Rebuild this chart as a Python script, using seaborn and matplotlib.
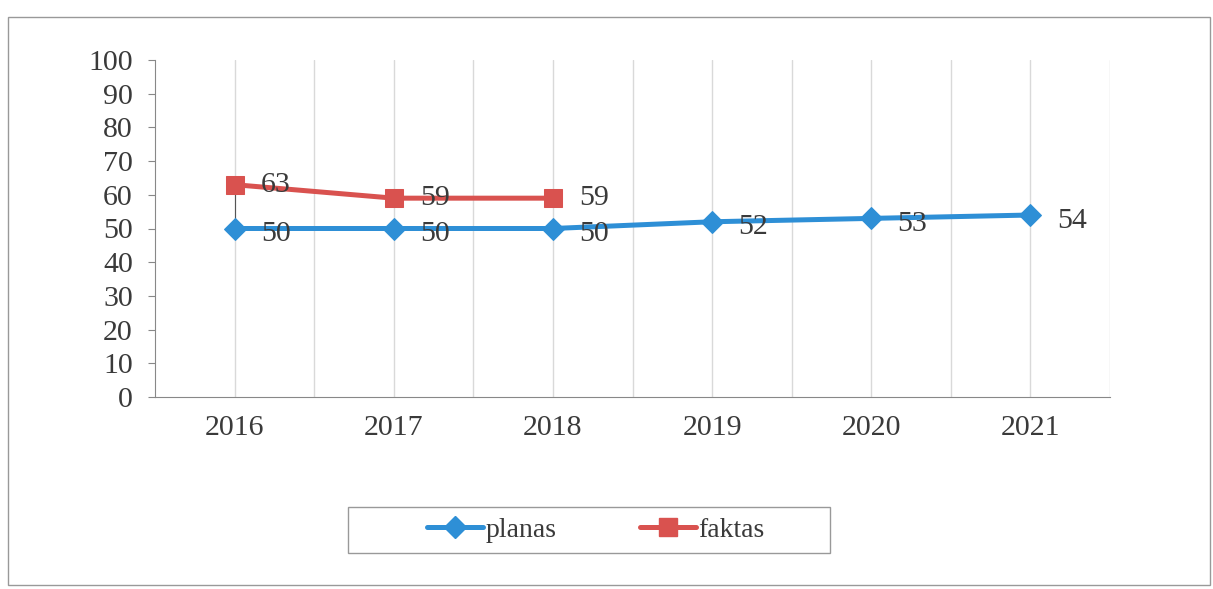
import matplotlib
matplotlib.use('Agg')
import matplotlib.pyplot as plt
from matplotlib.patches import Rectangle
from matplotlib.lines import Line2D
import pandas as pd
import seaborn as sns

years = ['2016', '2017', '2018', '2019', '2020', '2021']
planas = [50, 50, 50, 52, 53, 54]
faktas = [63, 59, 59]
yticks = list(range(0, 101, 10))

blue = '#2E8FD6'
red = '#D9524F'
txt = '#3a3a3a'

sns.set_style('white')
plt.rcParams['font.family'] = ['Liberation Serif', 'DejaVu Serif']

df_plan = pd.DataFrame({'pos': range(len(planas)), 'val': planas})
df_fakt = pd.DataFrame({'pos': range(len(faktas)), 'val': faktas})

fig = plt.figure(figsize=(12.13, 5.89), dpi=100)
ax = fig.add_axes([155 / 1213, 1 - 397 / 589, 955 / 1213, 337 / 589])

# thin leader line at 2016
ax.vlines(0, planas[0], faktas[0], color='#555555', lw=0.8, zorder=1)

sns.lineplot(data=df_plan, x='pos', y='val', ax=ax, color=blue, lw=3.6,
             marker='D', markersize=11, markeredgecolor=blue, zorder=3)
sns.lineplot(data=df_fakt, x='pos', y='val', ax=ax, color=red, lw=3.6,
             marker='s', markersize=13, markeredgecolor=red, zorder=3)

for i, v in enumerate(planas):
    ax.annotate(str(v), (i, v), xytext=(19, -4), textcoords='offset points',
                ha='left', va='center', fontsize=21.5, color=txt, zorder=4)
for i, v in enumerate(faktas):
    ax.annotate(str(v), (i, v), xytext=(19, 0), textcoords='offset points',
                ha='left', va='center', fontsize=21.5, color=txt, zorder=4)

ax.set_xlim(-0.5, len(years) - 0.5)
ax.set_ylim(0, 100)
ax.set_yticks(yticks)
ax.set_yticklabels([str(t) for t in yticks], fontsize=21.5, color=txt)
ax.set_xticks(range(len(years)))
ax.set_xticklabels(years, fontsize=21.5, color=txt)
ax.set_xticks([i - 0.5 for i in range(len(years) + 1)], minor=True)
ax.tick_params(axis='x', which='major', length=0, pad=13)
ax.tick_params(axis='x', which='minor', length=8, color='#888888', direction='out')
ax.tick_params(axis='y', length=5, color='#888888', direction='out', left=True, pad=11)
ax.set_xlabel('')
ax.set_ylabel('')

for x in [i * 0.5 - 0.5 for i in range(2 * len(years) + 1)][1:]:
    ax.axvline(x, color='#d9d9d9', lw=1, zorder=0)

for s in ['top', 'right']:
    ax.spines[s].set_visible(False)
ax.spines['left'].set_color('#888888')
ax.spines['bottom'].set_color('#888888')

# legend box
fig.patches.append(Rectangle((348 / 1213, 1 - 553 / 589), 482 / 1213, 46 / 589,
                             transform=fig.transFigure, fill=False,
                             edgecolor='#999999', lw=1))
handles = [Line2D([], [], color=blue, lw=3.6, marker='D', markersize=11),
           Line2D([], [], color=red, lw=3.6, marker='s', markersize=13)]
fig.legend(handles, ['planas', 'faktas'], loc='center',
           bbox_to_anchor=(596 / 1213, 1 - 530 / 589), ncol=2, frameon=False,
           fontsize=20, handlelength=2.0, handletextpad=0.1, columnspacing=3.0,
           labelcolor=txt)

# outer frame
fig.patches.append(Rectangle((8 / 1213, 1 - 585 / 589), 1202 / 1213, 568 / 589,
                             transform=fig.transFigure, fill=False,
                             edgecolor='#999999', lw=1))

fig.savefig('out.png', dpi=100)
